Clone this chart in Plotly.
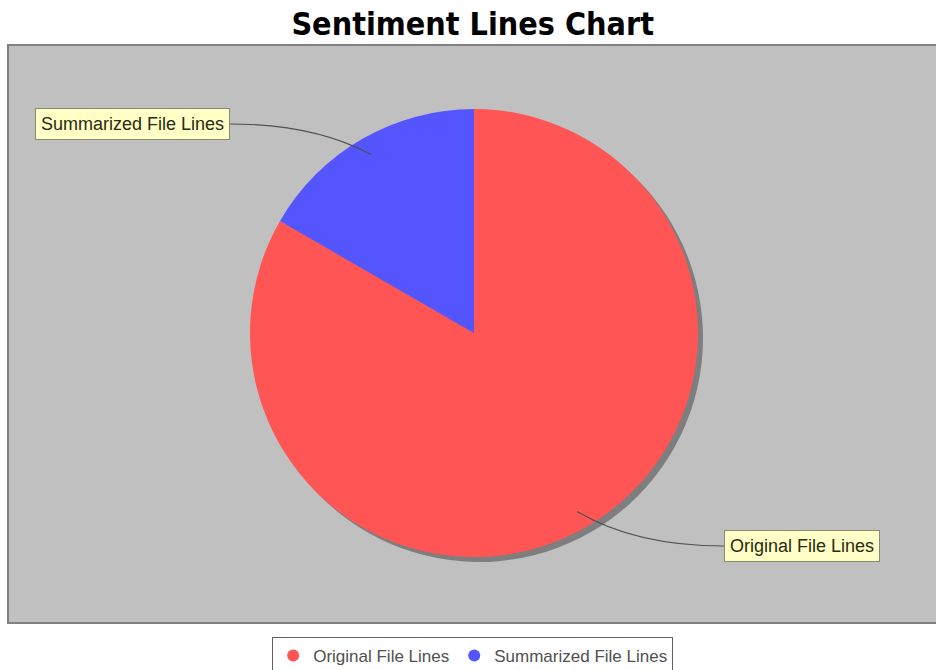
import math
import plotly.graph_objects as go

# ---- data ----
categories = ["Original File Lines", "Summarized File Lines"]
line_counts = [100, 20]
slice_colors = ["#FF5555", "#5555FF"]
title_text = "Sentiment Lines Chart"

W, H = 936, 670
# pie geometry (pixels)
CX, CY, R = 474, 333, 224
SHADOW = 5

def px_dom(cx, cy, r):
    return dict(x=[(cx - r) / W, (cx + r) / W],
                y=[1 - (cy + r) / H, 1 - (cy - r) / H])

fig = go.Figure()

# plot-area background
fig.add_shape(type="rect", xref="x", yref="y", x0=8, x1=945, y0=45, y1=623,
              fillcolor="#C0C0C0", line=dict(color="#808080", width=2), layer="below")

# shadow pie
fig.add_trace(go.Pie(labels=categories, values=line_counts, sort=False,
                     direction="clockwise", rotation=0,
                     marker=dict(colors=["#7E7E7E"] * len(categories), line=dict(width=0)),
                     textinfo="none", hoverinfo="skip", showlegend=False,
                     domain=px_dom(CX + SHADOW, CY + SHADOW, R)))
# main pie
fig.add_trace(go.Pie(labels=categories, values=line_counts, sort=False,
                     direction="clockwise", rotation=0,
                     marker=dict(colors=slice_colors, line=dict(width=0)),
                     textinfo="none", showlegend=False,
                     domain=px_dom(CX, CY, R)))

# legend entries (circle markers)
for name, col in zip(categories, slice_colors):
    fig.add_trace(go.Scatter(x=[None], y=[None], mode="markers", name=name,
                             marker=dict(symbol="circle", size=11, color=col)))

# labels with curved link lines, anchored at each slice's mid-angle
total = sum(line_counts)
box_pos = {  # label box anchor points (pixels) and side
    "Original File Lines": (724, 546, "left"),
    "Summarized File Lines": (230, 124, "right"),
}
start = 90.0
for name, v in zip(categories, line_counts):
    sweep = 360.0 * v / total
    mid = math.radians(start - sweep / 2)
    start -= sweep
    ax_ = CX + 0.92 * R * math.cos(mid)
    ay_ = CY - 0.92 * R * math.sin(mid)
    bx, by, side = box_pos[name]
    ctrl_x = bx + (0.6 * (ax_ - bx))
    path = f"M {bx},{by} Q {ctrl_x},{by} {ax_},{ay_}"
    fig.add_shape(type="path", xref="x", yref="y", path=path,
                  line=dict(color="#505050", width=1.2))
    fig.add_annotation(x=bx, y=by, xref="x", yref="y", text=name, showarrow=False,
                       xanchor="left" if side == "left" else "right", yanchor="middle",
                       font=dict(family="Liberation Sans", size=18, color="#2a2a10"),
                       bgcolor="#FFFFC6", bordercolor="#8a8a70", borderwidth=1, borderpad=5)

fig.update_layout(
    width=W, height=H,
    margin=dict(l=0, r=0, t=0, b=0, autoexpand=False),
    paper_bgcolor="white", plot_bgcolor="rgba(0,0,0,0)",
    title=dict(text=f"<b>{title_text}</b>", x=0.505, xanchor="center", y=1 - 24 / H, yanchor="middle",
               font=dict(family="DejaVu Sans Condensed, DejaVu Sans", size=32, color="black")),
    xaxis=dict(range=[0, W], visible=False, domain=[0, 1], fixedrange=True),
    yaxis=dict(range=[H, 0], visible=False, domain=[0, 1], fixedrange=True),
    showlegend=True,
    legend=dict(orientation="h", x=0.505, xanchor="center", y=1 - 637 / H, yanchor="top",
                bordercolor="#606060", borderwidth=1, bgcolor="white",
                font=dict(family="Liberation Sans", size=17, color="#505050"),
                itemsizing="constant", tracegroupgap=0, itemwidth=30),
)

fig.write_html("out.html", config={"displayModeBar": False},
               post_script="document.body.style.margin='0';document.body.style.overflow='hidden';")
